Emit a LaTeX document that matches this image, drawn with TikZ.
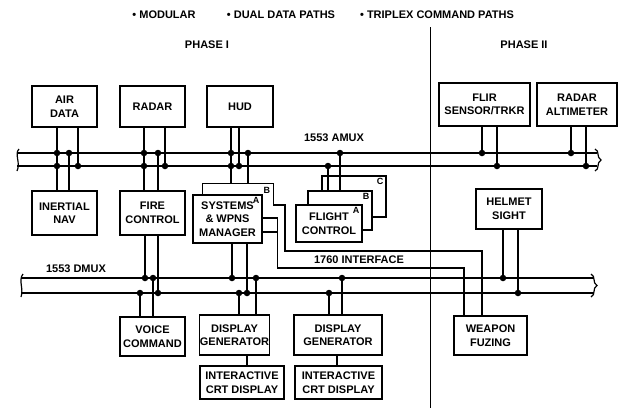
\documentclass[tikz,border=0pt]{standalone}
\usepackage{fontspec}
\setmainfont{Liberation Sans}
\usetikzlibrary{calc,positioning}
\tikzset{
  unit/.style = {
    draw,
    line width=1.1pt,
    fill=white,
    align=center,
    inner sep=0pt,
    font=\bfseries\fontsize{11}{13.5}\selectfont
  },
  card/.style = {
    draw,
    line width=1.1pt,
    fill=white,
    inner sep=0pt
  },
  caption/.style = {
    font=\bfseries\fontsize{11}{13}\selectfont
  },
  tag/.style = {
    anchor=north east,
    inner sep=3pt,
    font=\bfseries\fontsize{9}{9}\selectfont
  },
  bus/.style = {
    line width=2pt
  },
  busend/.style = {
    line width=1.2pt
  },
  tap/.style = {
    line width=1.8pt
  },
  dot/.style = {
    circle,
    fill,
    inner sep=0pt,
    minimum size=6.5pt
  },
  divider/.style = {
    line width=0.8pt
  }
}

\begin{document}
\begin{tikzpicture}[x=1pt, y=-1pt]
    \useasboundingbox (0,0) rectangle (618,408);

    % headings
    \node[caption] (modular)  at (164,15) {\textbullet\ MODULAR};
    \node[caption] (dualdata) at (281,15) {\textbullet\ DUAL DATA PATHS};
    \node[caption] (triplex)  at (437,15) {\textbullet\ TRIPLEX COMMAND PATHS};
    \node[caption] (phaseone) at (207,45) {PHASE I};
    \node[caption] (phasetwo) at (524,45) {PHASE II};
    \coordinate (divtop) at (430,27);
    \draw[divider] (divtop) -- ++(0,381);

    % buses
    \coordinate (amuxU) at (17,153);
    \coordinate (amuxD) at (17,166);
    \coordinate (dmuxU) at (21,278);
    \coordinate (dmuxD) at (21,293);
    \draw[bus] (amuxU) -- ++(580,0);
    \draw[bus] (amuxD) -- ++(580,0);
    \draw[bus] (dmuxU) -- ++(572,0);
    \draw[bus] (dmuxD) -- ++(572,0);
    \draw[busend] (19,149) .. controls (14,154) and (21,163) .. (17,171);
    \draw[busend] (595,149) .. controls (600,151) and (596,157) .. (601,160) .. controls (596,163) and (600,169) .. (595,171);
    \draw[busend] (23,274) .. controls (18,280) and (24,289) .. (21,297);
    \draw[busend] (591,274) .. controls (596,276) and (592,283) .. (597,285.5) .. controls (592,288) and (596,295) .. (591,297);
    \node[caption] (amuxlbl) at (334,138) {1553 AMUX};
    \node[caption] (dmuxlbl) at (76,269) {1553 DMUX};

    % units on the top row
    \node[unit, minimum width=65pt, minimum height=41pt] (airdata) at (64.5,106.5) {AIR\\DATA};
    \node[unit, minimum width=65pt, minimum height=41pt] (radar)   at (152.5,106.5) {RADAR};
    \node[unit, minimum width=66pt, minimum height=41pt] (hud)     at (240,106.5) {HUD};
    \node[unit, minimum width=91pt, minimum height=43pt] (flir)    at (484.5,104.5) {FLIR\\SENSOR/TRKR};
    \node[unit, minimum width=80pt, minimum height=43pt] (radalt)  at (577,104.5) {RADAR\\ALTIMETER};

    % units between the buses
    \node[unit, minimum width=65pt, minimum height=44pt] (inertial) at (64.5,213) {INERTIAL\\NAV};
    \node[unit, minimum width=65pt, minimum height=44pt] (firectl)  at (152.5,213) {FIRE\\CONTROL};
    \node[minimum width=70pt, minimum height=21pt, inner sep=0pt] (swmB) at (238,194.5) {};
    \draw[card] (swmB.south west) |- (swmB.north east) -- (swmB.south east);
    \node[unit, minimum width=69pt, minimum height=48pt] (swmA) at (227.5,219) {SYSTEMS\\\& WPNS\\MANAGER};
    \node[tag] (swmBtag) at (swmB.north east) {B};
    \node[tag] (swmAtag) at (swmA.north east) {A};
    \node[card, minimum width=64pt, minimum height=41pt] (fcC) at (354,196.5) {};
    \node[card, minimum width=64pt, minimum height=39pt] (fcB) at (340,210.5) {};
    \node[unit, minimum width=66pt, minimum height=37pt] (fcA) at (329,223.5) {FLIGHT\\CONTROL};
    \node[tag] (fcCtag) at (fcC.north east) {C};
    \node[tag] (fcBtag) at (fcB.north east) {B};
    \node[tag] (fcAtag) at (fcA.north east) {A};
    \node[unit, minimum width=66pt, minimum height=40pt] (helmet) at (509,209) {HELMET\\SIGHT};

    % units below the data bus
    \node[unit, minimum width=65pt, minimum height=39pt] (voice)  at (152.5,336.5) {VOICE\\COMMAND};
    \node[unit, minimum width=69pt, minimum height=40pt] (dgen1)  at (234.5,335) {DISPLAY\\GENERATOR};
    \node[unit, minimum width=88pt, minimum height=40pt] (dgen2)  at (338,335) {DISPLAY\\GENERATOR};
    \node[unit, minimum width=84pt, minimum height=33pt] (crt1)   at (242,382.5) {INTERACTIVE\\CRT DISPLAY};
    \node[unit, minimum width=87pt, minimum height=33pt] (crt2)   at (338.5,382.5) {INTERACTIVE\\CRT DISPLAY};
    \node[unit, minimum width=73pt, minimum height=39pt] (weapon) at (490.5,335.5) {WEAPON\\FUZING};

    % taps on 1553 AMUX
    \draw[tap] (airdata.south -| 57,0) -- (57,0 |- amuxU) node[dot] {};
    \draw[tap] (airdata.south -| 78,0) -- (78,0 |- amuxD) node[dot] {};
    \draw[tap] (inertial.north -| 57,0) -- (57,0 |- amuxD) node[dot] {} -- (57,0 |- amuxU);
    \draw[tap] (inertial.north -| 69,0) -- (69,0 |- amuxU) node[dot] {};
    \draw[tap] (radar.south -| 144,0) -- (144,0 |- amuxU) node[dot] {};
    \draw[tap] (radar.south -| 165,0) -- (165,0 |- amuxD) node[dot] {};
    \draw[tap] (firectl.north -| 144,0) -- (144,0 |- amuxD) node[dot] {} -- (144,0 |- amuxU);
    \draw[tap] (firectl.north -| 158,0) -- (158,0 |- amuxU) node[dot] {};
    \draw[tap] (hud.south -| 231,0) -- (231,0 |- amuxU) node[dot] {};
    \draw[tap] (hud.south -| 239,0) -- (239,0 |- amuxD) node[dot] {};
    \draw[tap] (swmB.north -| 231,0) -- (231,0 |- amuxD) node[dot] {} -- (231,0 |- amuxU);
    \draw[tap] (swmB.north -| 248,0) -- (248,0 |- amuxU) node[dot] {};
    \draw[tap] (fcB.north -| 328,0) -- (328,0 |- amuxD) node[dot] {};
    \draw[tap] (fcB.north -| 340,0) -- (340,0 |- amuxU) node[dot] {};
    \draw[tap] (flir.south -| 482,0) -- (482,0 |- amuxU) node[dot] {};
    \draw[tap] (flir.south -| 497,0) -- (497,0 |- amuxD) node[dot] {};
    \draw[tap] (radalt.south -| 571,0) -- (571,0 |- amuxU) node[dot] {};
    \draw[tap] (radalt.south -| 586,0) -- (586,0 |- amuxD) node[dot] {};

    % taps on 1553 DMUX
    \draw[tap] (firectl.south -| 145,0) -- (145,0 |- dmuxU) node[dot] {};
    \draw[tap] (firectl.south -| 158,0) -- (158,0 |- dmuxD) node[dot] {};
    \draw[tap] (voice.north -| 140,0) -- (140,0 |- dmuxD) node[dot] {};
    \draw[tap] (voice.north -| 153,0) -- (153,0 |- dmuxU) node[dot] {};
    \draw[tap] (swmA.south -| 232,0) -- (232,0 |- dmuxU) node[dot] {};
    \draw[tap] (swmA.south -| 247,0) -- (247,0 |- dmuxD) node[dot] {};
    \draw[tap] (dgen1.north -| 239,0) -- (239,0 |- dmuxD) node[dot] {};
    \draw[tap] (dgen1.north -| 256,0) -- (256,0 |- dmuxU) node[dot] {};
    \draw[tap] (dgen2.north -| 329,0) -- (329,0 |- dmuxD) node[dot] {};
    \draw[tap] (dgen2.north -| 342,0) -- (342,0 |- dmuxU) node[dot] {};
    \draw[tap] (helmet.south -| 503,0) -- (503,0 |- dmuxU) node[dot] {};
    \draw[tap] (helmet.south -| 518,0) -- (518,0 |- dmuxD) node[dot] {};

    % displays
    \draw[tap] (dgen1.south -| 247,0) -- (crt1.north -| 247,0);
    \draw[tap] (dgen2.south -| 337,0) -- (crt2.north -| 337,0);

    % 1760 interface
    \draw[tap] (swmB.south east) -| ($(swmB.south east)+(12,46)$) -| ([xshift=-8.5pt]weapon.north);
    \draw[tap] ($(swmA.east)+(0,13)$) -| ($(swmA.east)+(15,-1)$) -- ++(-15,0);
    \draw[tap] ($(swmA.east)+(15,-1)$) -- ++(0,50) -| ([xshift=-26.5pt]weapon.north);
    \node[caption] (iface) at (359,260) {1760 INTERFACE};
\end{tikzpicture}
\end{document}
